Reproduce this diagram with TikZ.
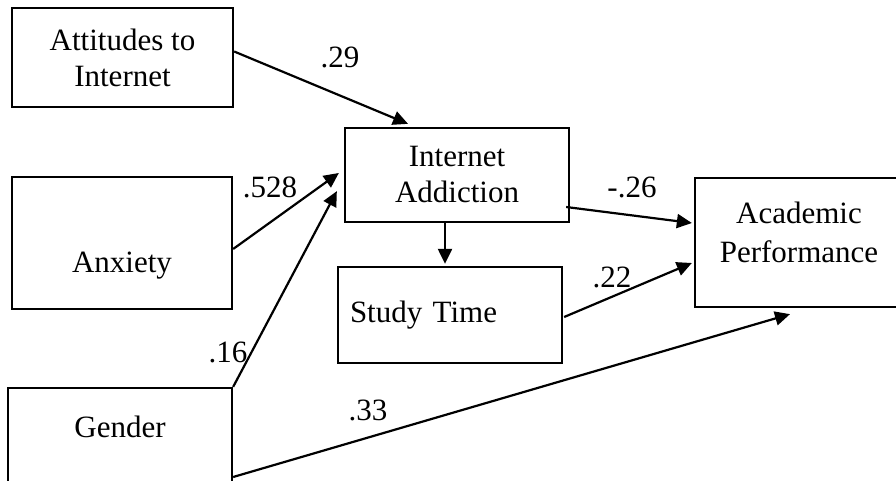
\documentclass[tikz,border=0pt]{standalone}
\usepackage{fontspec}
\setmainfont{Liberation Serif}
\usetikzlibrary{arrows.meta}
\begin{document}
\begin{tikzpicture}[x=1pt,y=-1pt,font=\fontsize{31}{36}\selectfont,
            box/.style={draw,line width=2.3pt,inner sep=0pt,align=center},
            arr/.style={-{Triangle[length=15pt,width=14pt]},line width=2.2pt}]
            \useasboundingbox (0,0) rectangle (896,481);
            \node[box,minimum width=221,minimum height=99] (att) at (122.5,57.5) {Attitudes to\\Internet};
            \node[box,minimum width=224,minimum height=94] (ia) at (457,175) {Internet\\Addiction};
            \node[box,minimum width=220,minimum height=132] (anx) at (122,243) {\raisebox{-29pt}[0pt][0pt]{Anxiety}};
            \node[box,minimum width=224,minimum height=132] (gen) at (120,454) {\raisebox{17pt}[0pt][0pt]{Gender}};
            \node[box,minimum width=224,minimum height=96,text width=200pt,align=left,inner sep=12pt] (st) at (450,315) {Study Time};
            \node[box,minimum width=208,minimum height=129,text depth=21pt] (ap) at (799,242.5) {Academic\\[3pt]Performance};
            \draw[arr] ([yshift=6pt]att.east) -- ([xshift=-49pt,yshift=3pt]ia.north);
            \draw[arr] ([yshift=-6pt]anx.east) -- ([xshift=-5pt,yshift=2pt]ia.west);
            \draw[arr] (gen.north east) -- ([xshift=-7pt,yshift=32pt]ia.south west);
            \draw[arr] ([yshift=-23pt]gen.east) -- ([xshift=-9pt,yshift=-6pt]ap.south);
            \draw[arr] ([xshift=-4pt,yshift=-32pt]ia.east) -- ([xshift=-2pt,yshift=19.5pt]ap.west);
            \draw[arr] ([xshift=-12pt]ia.south) -- ([xshift=-5pt,yshift=2pt]st.north);
            \draw[arr] ([xshift=1pt,yshift=-2pt]st.east) -- ([xshift=-2pt,yshift=-20.5pt]ap.west);
            \node (lab29) at (340,57) {.29};
            \node (lab528) at (270,187) {.528};
            \node (lab16) at (228,352) {.16};
            \node (lab33) at (368,410) {.33};
            \node (lab26) at (632,187) {-.26};
            \node (lab22) at (612,277) {.22};
        \end{tikzpicture}
\end{document}
